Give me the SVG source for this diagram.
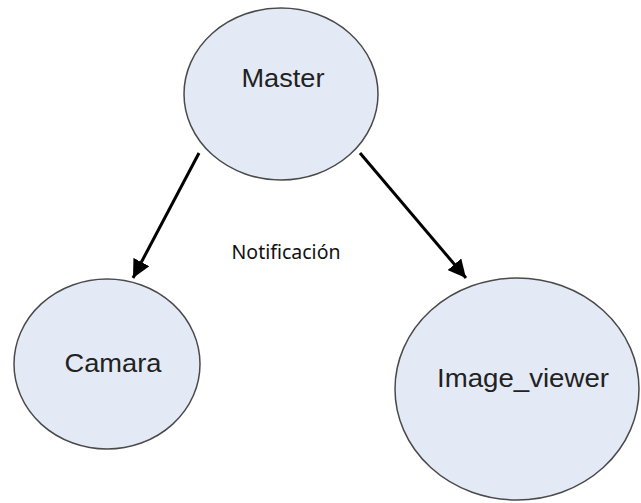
<svg xmlns="http://www.w3.org/2000/svg" width="641" height="503" viewBox="0 0 641 503">
<style>
.node{fill:#e4eaf5;stroke:#4a4a4a;stroke-width:1.5}
.lbl{font-family:"Liberation Sans",Arial,sans-serif;font-size:25px;fill:#222;text-anchor:middle}
.edge{stroke:#000;stroke-width:3;fill:none;marker-end:url(#ah)}
.note{font-family:"Noto Sans","Open Sans",sans-serif;fill:#111;text-anchor:middle}
</style>
<defs>
<marker id="ah" viewBox="0 0 10 10" refX="10" refY="5" markerWidth="6" markerHeight="6" orient="auto" markerUnits="strokeWidth">
<path d="M0,0 L10,5 L0,10 Z" fill="#000"/>
</marker>
</defs>
<rect width="641" height="503" fill="#fff"/>
<g id="master">
<ellipse class="node" cx="281" cy="94" rx="97" ry="86"/>
<text class="lbl" x="283" y="87" textLength="83" lengthAdjust="spacingAndGlyphs">Master</text>
</g>
<g id="camara">
<ellipse class="node" cx="107" cy="364" rx="93" ry="85"/>
<text class="lbl" x="113" y="372" textLength="97" lengthAdjust="spacingAndGlyphs">Camara</text>
</g>
<g id="image_viewer">
<ellipse class="node" cx="517" cy="389" rx="122" ry="111"/>
<text class="lbl" x="523" y="387" textLength="172" lengthAdjust="spacingAndGlyphs">Image_viewer</text>
</g>
<g id="connectors">
<line class="edge" x1="199" y1="153" x2="133" y2="278"/>
<line class="edge" x1="360" y1="153" x2="466" y2="278"/>
</g>
<text class="note" x="286" y="259" font-size="19.5">Notificación</text>
</svg>
